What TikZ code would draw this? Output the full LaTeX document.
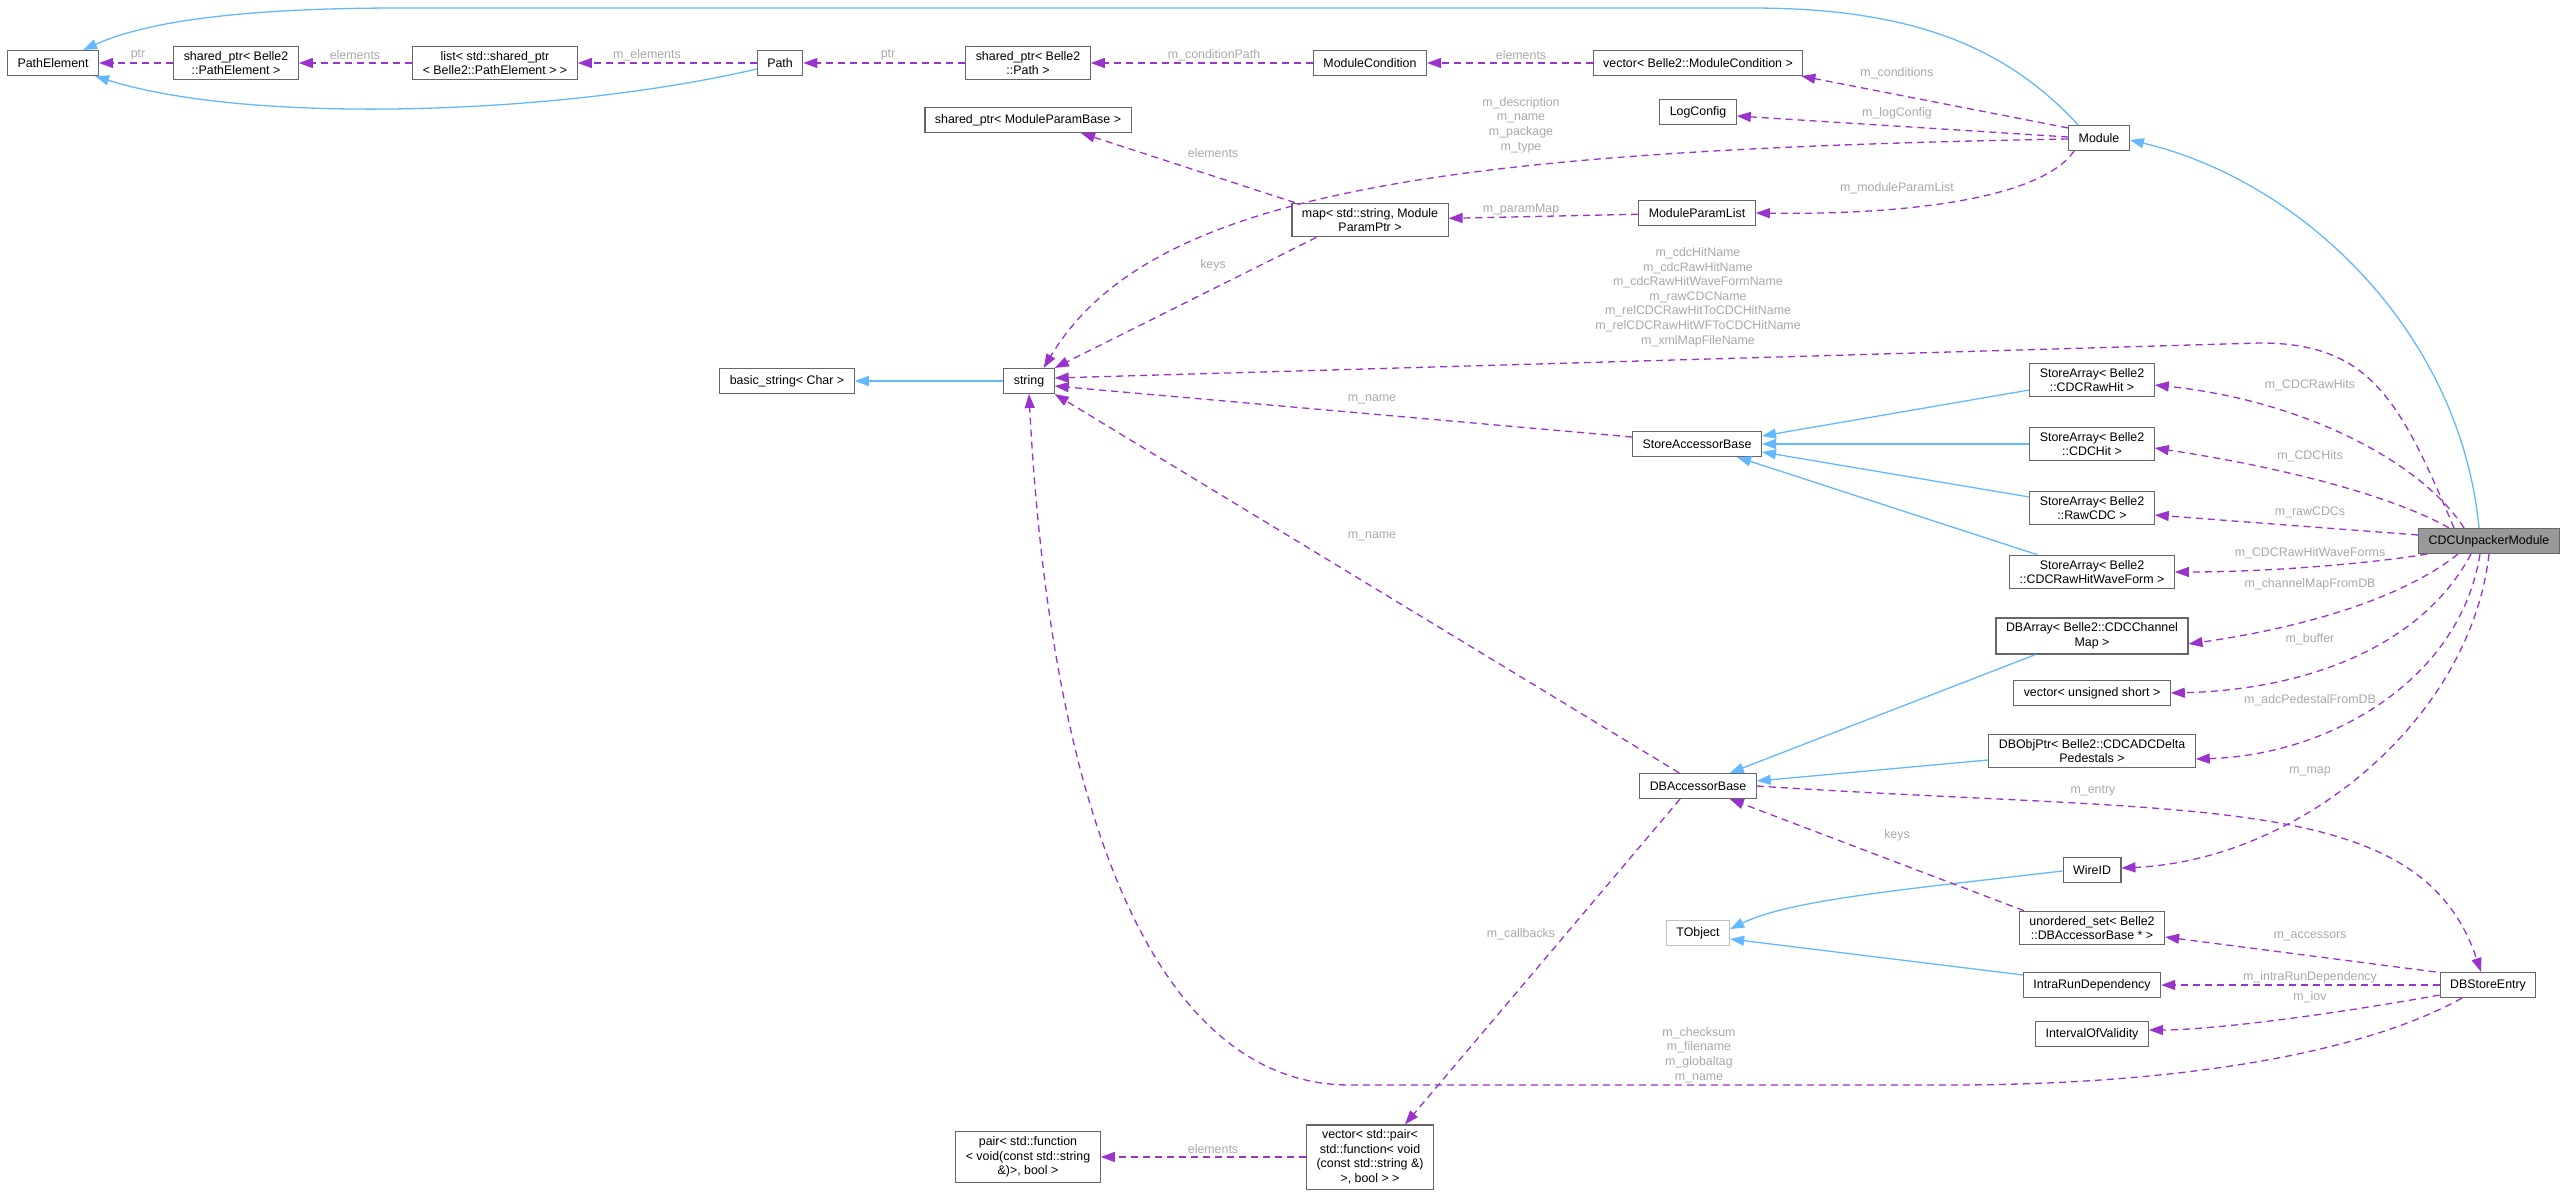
\documentclass[tikz,border=0pt]{standalone}
\usepackage{fontspec}
\setmainfont{Liberation Sans}
\usetikzlibrary{arrows.meta}
\definecolor{inhblue}{HTML}{63B8FF}
\definecolor{usepurple}{HTML}{9A32CD}
\definecolor{lblgray}{HTML}{A8A8A8}
\definecolor{boxgray}{HTML}{666666}
\tikzset{
  box/.style={draw=boxgray, line width=1.1pt, fill=white, inner xsep=10pt, inner ysep=5pt,
    minimum height=25pt, align=center, font=\fontsize{12.4}{14.5}\selectfont},
  ext/.style={box, draw=black!25},
  cls/.style={box, fill=black!40},
  inh/.style={draw=inhblue, line width=1.3pt, -{Triangle[length=14pt,width=10pt]}},
  dep/.style={draw=usepurple, line width=1.3pt, dash pattern=on 7pt off 5pt,
    -{Triangle[length=14pt,width=10pt]}},
  lbl/.style={text=lblgray, align=center, inner sep=0pt, font=\fontsize{12.4}{14.6}\selectfont},
}
\begin{document}
\begin{tikzpicture}[x=1pt,y=-1pt]
  \useasboundingbox (0,0) rectangle (2568,1197);
  % top row
  \node[box] (pathelem) at (53,63) {PathElement};
  \node[box] (sppathelem) at (236,63) {shared\_ptr< Belle2\\::PathElement >};
  \node[box] (listsp) at (495,63) {list< std::shared\_ptr\\< Belle2::PathElement > >};
  \node[box] (path) at (780,63) {Path};
  \node[box] (sppath) at (1028,63) {shared\_ptr< Belle2\\::Path >};
  \node[box] (modcond) at (1370,63) {ModuleCondition};
  \node[box] (vecmodcond) at (1698,63) {vector< Belle2::ModuleCondition >};
  \node[box] (logconfig) at (1698,112) {LogConfig};
  \node[box] (module) at (2099,138) {Module};
  \node[box] (spparam) at (1028,120) {shared\_ptr< ModuleParamBase >};
  \node[box] (parammap) at (1370,220) {map< std::string, Module\\ParamPtr >};
  \node[box] (paramlist) at (1697,213) {ModuleParamList};
  % strings and store arrays
  \node[box] (basicstr) at (787,381) {basic\_string< Char >};
  \node[box] (string) at (1029,381) {string};
  \node[box] (storeacc) at (1697,444) {StoreAccessorBase};
  \node[box] (sarawhit) at (2092,380) {StoreArray< Belle2\\::CDCRawHit >};
  \node[box] (sacdchit) at (2092,444) {StoreArray< Belle2\\::CDCHit >};
  \node[box] (sarawcdc) at (2092,508) {StoreArray< Belle2\\::RawCDC >};
  \node[box] (sawave) at (2092,572) {StoreArray< Belle2\\::CDCRawHitWaveForm >};
  \node[box] (dbarray) at (2092,636) {DBArray< Belle2::CDCChannel\\Map >};
  \node[box] (vecushort) at (2092,693) {vector< unsigned short >};
  \node[box] (dbobjptr) at (2092,751) {DBObjPtr< Belle2::CDCADCDelta\\Pedestals >};
  \node[cls] (unpacker) at (2489,541) {CDCUnpackerModule};
  % database side
  \node[box] (dbacc) at (1698,786) {DBAccessorBase};
  \node[box] (wireid) at (2092,870) {WireID};
  \node[ext] (tobject) at (1698,933) {TObject};
  \node[box] (uset) at (2092,928) {unordered\_set< Belle2\\::DBAccessorBase * >};
  \node[box] (intrarun) at (2092,985) {IntraRunDependency};
  \node[box] (iov) at (2092,1034) {IntervalOfValidity};
  \node[box] (dbentry) at (2488,985) {DBStoreEntry};
  \node[box] (vecpair) at (1370,1157) {vector< std::pair<\\std::function< void\\(const std::string \&)\\>, bool > >};
  \node[box] (pairfn) at (1028,1157) {pair< std::function\\< void(const std::string\\\&)>, bool >};

  % inheritance
  \draw[inh] ([xshift=10pt]module.north west) .. controls (2000,40) and (1900,8) .. (1750,8)
    -- (400,8) .. controls (250,8) and (150,20) .. ([xshift=-16pt]pathelem.north east);
  \draw[inh] ([yshift=-6pt]path.west) .. controls (560,115) and (250,125) .. ([xshift=-4pt]pathelem.south east);
  \draw[inh] ([xshift=-10pt]unpacker.north) .. controls (2460,330) and (2300,180) .. ([yshift=-2pt]module.east);
  \draw[inh] (string) -- (basicstr);
  \draw[inh] ([yshift=-10pt]sarawhit.west) -- ([yshift=8pt]storeacc.east);
  \draw[inh] (sacdchit.west) -- (storeacc.east);
  \draw[inh] ([yshift=11pt]sarawcdc.west) -- ([yshift=-8pt]storeacc.east);
  \draw[inh] ([xshift=28pt]sawave.north west) -- ([xshift=-25pt]storeacc.south east);
  \draw[inh] ([xshift=40pt]dbarray.south west) -- ([xshift=-27pt]dbacc.north east);
  \draw[inh] ([yshift=-9pt]dbobjptr.west) -- ([yshift=5pt]dbacc.east);
  \draw[inh] ([yshift=-1pt]wireid.west) .. controls (1900,890) and (1790,900) .. ([yshift=4pt]tobject.east);
  \draw[inh] ([yshift=-3pt]intrarun.north west) -- ([yshift=-6pt]tobject.east);

  % usage
  \draw[dep] (sppathelem) -- (pathelem);
  \draw[dep] (listsp) -- (sppathelem);
  \draw[dep] (path) -- (listsp);
  \draw[dep] (sppath) -- (path);
  \draw[dep] (modcond) -- (sppath);
  \draw[dep] (vecmodcond) -- (modcond);
  \draw[dep] ([yshift=-3pt]module.north west) -- ([xshift=-2pt]vecmodcond.south east);
  \draw[dep] ([yshift=1pt]module.west) -- ([yshift=-4pt]logconfig.east);
  \draw[dep] ([yshift=-1pt]module.west) .. controls (1450,150) and (1150,190) .. ([xshift=-11pt]string.north east);
  \draw[dep] ([xshift=-75pt]parammap.north) -- ([xshift=53pt]spparam.south);
  \draw[dep] ([xshift=25pt]parammap.south west) -- (string.north east);
  \draw[dep] (paramlist) -- (parammap);
  \draw[dep] ([xshift=6pt]module.south west) .. controls (2040,200) and (1900,215) .. (paramlist.east);
  \draw[dep] ([xshift=-35pt]unpacker.north) .. controls (2400,400) and (2370,343) .. (2260,343)
    -- ([yshift=3pt]string.east);
  \draw[dep] ([yshift=7pt]storeacc.west) -- ([yshift=-5pt]string.east);
  \draw[dep] ([xshift=40pt]dbacc.north west) -- (string.south east);
  \draw[dep] ([xshift=-25pt]unpacker.north) .. controls (2420,460) and (2300,400) .. ([yshift=-5pt]sarawhit.east);
  \draw[dep] ([xshift=-40pt]unpacker.north) .. controls (2400,500) and (2300,470) .. ([yshift=-4pt]sacdchit.east);
  \draw[dep] ([yshift=6pt]unpacker.west) -- ([yshift=-7pt]sarawcdc.east);
  \draw[dep] ([xshift=9pt]unpacker.south west) .. controls (2360,565) and (2260,572) .. (sawave.east);
  \draw[dep] ([xshift=-31pt]unpacker.south) .. controls (2400,600) and (2300,628) .. ([yshift=-8pt]dbarray.east);
  \draw[dep] ([xshift=-18pt]unpacker.south) .. controls (2420,650) and (2300,690) .. (vecushort.east);
  \draw[dep] ([xshift=-9pt]unpacker.south) .. controls (2460,680) and (2330,755) .. ([yshift=-8pt]dbobjptr.east);
  \draw[dep] (unpacker.south) .. controls (2470,720) and (2300,860) .. ([yshift=2pt]wireid.east);
  \draw[dep] (dbacc.east) .. controls (2200,815) and (2420,790) .. ([xshift=-7pt]dbentry.north);
  \draw[dep] ([xshift=-18pt]dbacc.south) -- ([xshift=35pt]vecpair.north);
  \draw[dep] ([xshift=5pt]uset.north west) -- ([xshift=-27pt]dbacc.south east);
  \draw[dep] ([xshift=-4pt]dbentry.north west) -- ([yshift=-9pt]uset.east);
  \draw[dep] (dbentry.west) -- (intrarun.east);
  \draw[dep] ([yshift=-10pt]dbentry.west) .. controls (2300,1020) and (2200,1030) .. ([yshift=4pt]iov.east);
  \draw[dep] ([xshift=-26pt]dbentry.south) .. controls (2350,1060) and (2150,1085) .. (1950,1085)
    -- (1350,1085) .. controls (1150,1085) and (1050,800) .. (string.south);
  \draw[dep] (vecpair) -- (pairfn);

  % edge labels
  \node[lbl] (lptr) at (138,55) {ptr};
  \node[lbl] (lelem) at (355,55) {elements};
  \node[lbl] (lmelem) at (647,55) {m\_elements};
  \node[lbl] (lptrb) at (888,55) {ptr};
  \node[lbl] (lcondpath) at (1214,55) {m\_conditionPath};
  \node[lbl] (lelemb) at (1521,55) {elements};
  \node[lbl] (lcond) at (1897,73) {m\_conditions};
  \node[lbl] (llog) at (1897,113) {m\_logConfig};
  \node[lbl] (ldesc) at (1521,125) {m\_description\\m\_name\\m\_package\\m\_type};
  \node[lbl] (lelemc) at (1213,153) {elements};
  \node[lbl] (lparammap) at (1521,210) {m\_paramMap};
  \node[lbl] (lparamlist) at (1897,188) {m\_moduleParamList};
  \node[lbl] (lkeys) at (1213,265) {keys};
  \node[lbl] (lnames) at (1698,297) {m\_cdcHitName\\m\_cdcRawHitName\\m\_cdcRawHitWaveFormName\\m\_rawCDCName\\m\_relCDCRawHitToCDCHitName\\m\_relCDCRawHitWFToCDCHitName\\m\_xmlMapFileName};
  \node[lbl] (lname) at (1372,399) {m\_name};
  \node[lbl] (lnameb) at (1372,536) {m\_name};
  \node[lbl] (lrawhits) at (2310,385) {m\_CDCRawHits};
  \node[lbl] (lcdchits) at (2310,456) {m\_CDCHits};
  \node[lbl] (lrawcdcs) at (2310,512) {m\_rawCDCs};
  \node[lbl] (lwave) at (2310,553) {m\_CDCRawHitWaveForms};
  \node[lbl] (lchmap) at (2310,584) {m\_channelMapFromDB};
  \node[lbl] (lbuffer) at (2310,639) {m\_buffer};
  \node[lbl] (lped) at (2310,700) {m\_adcPedestalFromDB};
  \node[lbl] (lmap) at (2310,771) {m\_map};
  \node[lbl] (lentry) at (2093,791) {m\_entry};
  \node[lbl] (lkeysb) at (1897,835) {keys};
  \node[lbl] (lcallb) at (1521,934) {m\_callbacks};
  \node[lbl] (lacc) at (2310,936) {m\_accessors};
  \node[lbl] (lintra) at (2310,977) {m\_intraRunDependency};
  \node[lbl] (liov) at (2310,997) {m\_iov};
  \node[lbl] (lcheck) at (1699,1055) {m\_checksum\\m\_filename\\m\_globaltag\\m\_name};
  \node[lbl] (lelemd) at (1213,1149) {elements};
\end{tikzpicture}
\end{document}
